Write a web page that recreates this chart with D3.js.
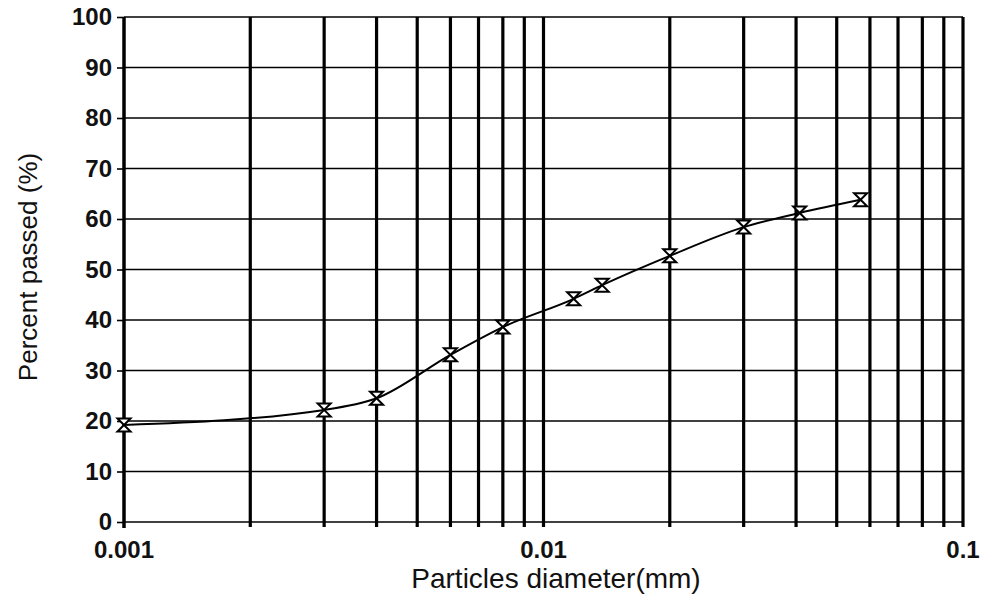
<!DOCTYPE html>
<html>
<head>
<meta charset="utf-8">
<script src="https://cdn.jsdelivr.net/npm/d3@7"></script>
<style>
  body { margin: 0; background: #fff; }
  svg { display: block; }
</style>
</head>
<body>
<div id="main"></div>
<script>
const cte = {
    w: 992,
    h: 598,
    font: "'Liberation Sans', Arial, sans-serif"
};

// values
const diameters = [0.001, 0.003, 0.004, 0.006, 0.008, 0.0118, 0.0138, 0.02, 0.03, 0.0408, 0.057];
const passed = [19.2, 22.2, 24.5, 33.1, 38.6, 44.2, 46.9, 52.7, 58.4, 61.2, 63.8];
const yTicks = [0, 10, 20, 30, 40, 50, 60, 70, 80, 90, 100];
const xTickLabels = [0.001, 0.01, 0.1];
const xGrid = [0.002, 0.003, 0.004, 0.005, 0.006, 0.007, 0.008, 0.009, 0.01,
               0.02, 0.03, 0.04, 0.05, 0.06, 0.07, 0.08, 0.09, 0.1];

const margin = { top: 17, right: 29, bottom: 76, left: 124 };
const width = cte.w - margin.left - margin.right;
const height = cte.h - margin.top - margin.bottom;

const svg = d3.select("#main").append("svg")
    .attr("width", cte.w)
    .attr("height", cte.h);

const g = svg.append("g")
    .attr("transform", `translate(${margin.left}, ${margin.top})`);

const xScale = d3.scaleLog().domain([0.001, 0.1]).range([0, width]);
const yScale = d3.scaleLinear().domain([0, 100]).range([height, 0]);

// horizontal grid
g.selectAll(".hgrid")
    .data(yTicks)
    .enter().append("line")
    .attr("class", "hgrid")
    .attr("x1", 0)
    .attr("x2", width)
    .attr("y1", d => yScale(d))
    .attr("y2", d => yScale(d))
    .attr("stroke", "#000")
    .attr("stroke-width", 1.6);

// vertical grid
g.selectAll(".vgrid")
    .data(xGrid)
    .enter().append("line")
    .attr("class", "vgrid")
    .attr("x1", d => xScale(d))
    .attr("x2", d => xScale(d))
    .attr("y1", 0)
    .attr("y2", height + 5)
    .attr("stroke", "#000")
    .attr("stroke-width", 3.2);

// left axis
const yAxis = d3.axisLeft(yScale)
    .tickValues(yTicks)
    .tickSize(7)
    .tickPadding(5);

g.append("g")
    .attr("class", "y-axis")
    .call(yAxis)
    .call(s => s.select(".domain").remove())
    .selectAll("text")
    .style("font-family", cte.font)
    .style("font-size", "24px")
    .style("font-weight", "bold")
    .attr("fill", "#111");

g.selectAll(".y-axis .tick line")
    .attr("stroke-width", 1.6);

g.append("line")
    .attr("x1", 0).attr("x2", 0)
    .attr("y1", 0).attr("y2", height + 6)
    .attr("stroke", "#000")
    .attr("stroke-width", 3.5);

// bottom labels
g.selectAll(".xlab")
    .data(xTickLabels)
    .enter().append("text")
    .attr("class", "xlab")
    .attr("x", d => xScale(d))
    .attr("y", 558 - margin.top)
    .attr("text-anchor", "middle")
    .style("font-family", cte.font)
    .style("font-size", "24px")
    .style("font-weight", "bold")
    .attr("fill", "#111")
    .text(d => d);

// the curve
const points = diameters.map((d, i) => ({ x: d, y: passed[i] }));

const lineGenerator = d3.line()
    .curve(d3.curveMonotoneX)
    .x(d => xScale(d.x))
    .y(d => yScale(d.y));

g.append("path")
    .datum(points)
    .attr("d", lineGenerator)
    .attr("fill", "none")
    .attr("stroke", "#000")
    .attr("stroke-width", 2);

// hourglass markers
const m = 6.5;
g.selectAll(".marker")
    .data(points)
    .enter().append("path")
    .attr("class", "marker")
    .attr("transform", d => `translate(${xScale(d.x)}, ${yScale(d.y)})`)
    .attr("d", `M${-m},${-m}L${m},${-m}L${-m},${m}L${m},${m}Z`)
    .attr("fill", "#fff")
    .attr("stroke", "#000")
    .attr("stroke-width", 2);

// axis titles
svg.append("text")
    .attr("x", 556)
    .attr("y", 588)
    .attr("text-anchor", "middle")
    .style("font-family", cte.font)
    .style("font-size", "28px")
    .attr("fill", "#111")
    .text("Particles diameter(mm)");

svg.append("text")
    .attr("transform", `translate(37, 267) rotate(-90)`)
    .attr("text-anchor", "middle")
    .style("font-family", cte.font)
    .style("font-size", "26px")
    .attr("fill", "#111")
    .text("Percent passed (%)");
</script>
</body>
</html>
